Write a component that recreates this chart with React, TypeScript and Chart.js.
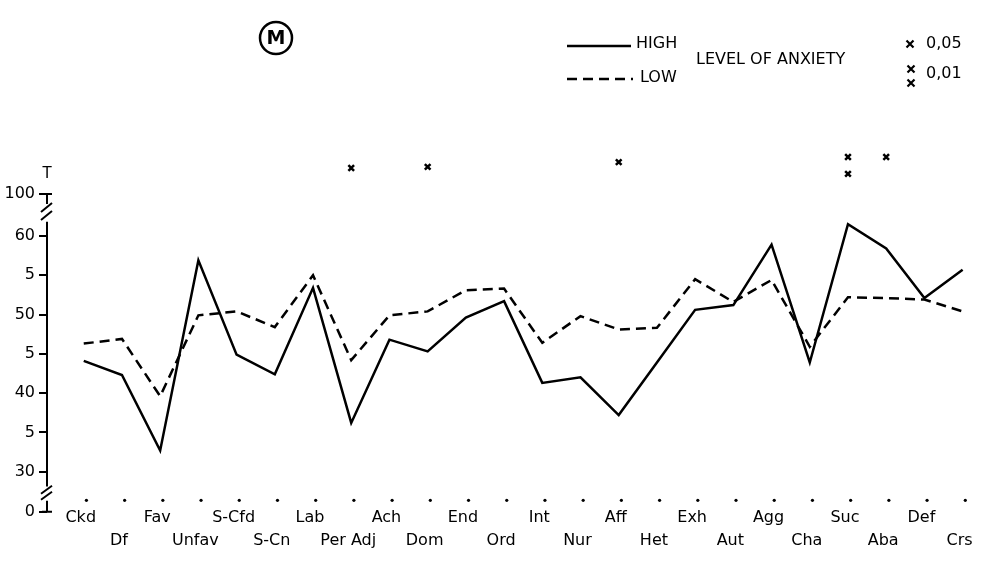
import React, { useEffect, useRef } from 'react';
import { Chart, registerables } from 'chart.js';

Chart.register(...registerables);

// ---------- DATA ----------
const categories = ['Ckd', 'Df', 'Fav', 'Unfav', 'S-Cfd', 'S-Cn', 'Lab', 'Per Adj', 'Ach', 'Dom', 'End', 'Ord', 'Int', 'Nur', 'Aff', 'Het', 'Exh', 'Aut', 'Agg', 'Cha', 'Suc', 'Aba', 'Def', 'Crs'];
const highAnxiety = [44.1, 42.3, 32.7, 56.9, 44.9, 42.4, 53.4, 36.2, 46.8, 45.3, 49.6, 51.7, 41.3, 42.0, 37.2, 43.9, 50.6, 51.2, 58.9, 43.9, 61.5, 58.4, 52.1, 55.7];
const lowAnxiety = [46.3, 46.9, 39.6, 49.9, 50.4, 48.4, 55.0, 44.2, 49.9, 50.4, 53.1, 53.3, 46.4, 49.8, 48.1, 48.3, 54.5, 51.6, 54.4, 45.9, 52.2, 52.1, 51.9, 50.4];
// significance markers (x = 0.05, double x = 0.01), drawn above the 100 line
const sigCategories = ['Per Adj', 'Dom', 'Aff', 'Suc', 'Suc', 'Aba'];
const sigHeights = [68.65, 68.8, 69.4, 70.05, 67.9, 70.05];
const yTickValues = [0, 30, 35, 40, 45, 50, 55, 60, 100];
const yTickLabels = ['0', '30', '5', '40', '5', '50', '5', '60', '100'];
// height (in axis display units) of the row of category dots, just above the 0 mark
const dotRowLevel = 26.35;

// broken axis: 0 and 100 are placed just beyond the 30..60 range
const BREAK_LOW = 24.9;
const BREAK_HIGH = 65.35;
const displayValue = (v: number) => (v === 0 ? BREAK_LOW : v === 100 ? BREAK_HIGH : v);

const FONT = 'DejaVu Sans';

const drawCross = (ctx: CanvasRenderingContext2D, x: number, y: number, r: number) => {
  ctx.beginPath();
  ctx.moveTo(x - r, y - r);
  ctx.lineTo(x + r, y + r);
  ctx.moveTo(x + r, y - r);
  ctx.lineTo(x - r, y + r);
  ctx.stroke();
};

const decorPlugin = {
  id: 'decor',
  afterDraw(chart: any) {
    const ctx: CanvasRenderingContext2D = chart.ctx;
    const ys = chart.scales.y;
    const ax = ys.right;
    const top = ys.getPixelForValue(BREAK_HIGH);
    const bottom = ys.getPixelForValue(BREAK_LOW);
    ctx.save();
    ctx.strokeStyle = '#000';
    ctx.fillStyle = '#000';
    ctx.lineWidth = 2;
    ctx.setLineDash([]);
    // main axis segment
    ctx.beginPath();
    ctx.moveTo(ax, ys.getPixelForValue(61.8));
    ctx.lineTo(ax, ys.getPixelForValue(28.1));
    ctx.stroke();
    // top stub and break
    ctx.beginPath();
    ctx.moveTo(ax - 5, top);
    ctx.lineTo(ax + 5, top);
    ctx.moveTo(ax, top);
    ctx.lineTo(ax, top + 10);
    ctx.moveTo(ax - 6, top + 18);
    ctx.lineTo(ax + 5, top + 9);
    ctx.moveTo(ax - 6, top + 26);
    ctx.lineTo(ax + 5, top + 17);
    ctx.stroke();
    // bottom stub and break
    ctx.beginPath();
    ctx.moveTo(ax - 5, bottom);
    ctx.lineTo(ax + 5, bottom);
    ctx.moveTo(ax, bottom);
    ctx.lineTo(ax, bottom - 11);
    ctx.moveTo(ax - 6, bottom - 12);
    ctx.lineTo(ax + 5, bottom - 20);
    ctx.moveTo(ax - 6, bottom - 18);
    ctx.lineTo(ax + 5, bottom - 26);
    ctx.stroke();
    // axis unit
    ctx.font = `15px "${FONT}"`;
    ctx.textAlign = 'center';
    ctx.textBaseline = 'middle';
    ctx.fillText('T', ax, top - 20);

    // legend
    ctx.lineWidth = 2.5;
    ctx.beginPath();
    ctx.moveTo(567, 46);
    ctx.lineTo(631, 46);
    ctx.stroke();
    ctx.setLineDash([10, 6]);
    ctx.beginPath();
    ctx.moveTo(567, 79);
    ctx.lineTo(633, 79);
    ctx.stroke();
    ctx.setLineDash([]);
    ctx.font = `16px "${FONT}"`;
    ctx.textAlign = 'left';
    ctx.fillText('HIGH', 636, 44);
    ctx.fillText('LOW', 640, 78);
    ctx.fillText('LEVEL OF ANXIETY', 696, 60);
    ctx.fillText('0,05', 926, 44);
    ctx.fillText('0,01', 926, 74);
    ctx.lineWidth = 2.2;
    drawCross(ctx, 910, 44, 3.5);
    drawCross(ctx, 911, 69, 3.5);
    drawCross(ctx, 911, 83, 3.5);

    // circled M
    ctx.lineWidth = 2.5;
    ctx.beginPath();
    ctx.arc(276, 38, 16, 0, Math.PI * 2);
    ctx.stroke();
    ctx.font = `bold 19px "${FONT}"`;
    ctx.textAlign = 'center';
    ctx.fillText('M', 276, 39);
    ctx.restore();
  },
};

export default function App() {
  const ref = useRef<HTMLCanvasElement>(null);

  useEffect(() => {
    if (!ref.current) return;
    const pts = (arr: number[]) => arr.map((v, i) => ({ x: i, y: v }));
    const chart = new Chart(ref.current, {
      type: 'line',
      data: {
        datasets: [
          {
            label: 'HIGH',
            data: pts(highAnxiety),
            borderColor: '#000',
            borderWidth: 2.5,
            pointRadius: 0,
            tension: 0,
            fill: false,
          },
          {
            label: 'LOW',
            data: pts(lowAnxiety),
            borderColor: '#000',
            borderWidth: 2.5,
            borderDash: [10, 6],
            pointRadius: 0,
            tension: 0,
            fill: false,
          },
          {
            label: 'significance',
            data: sigCategories.map((c, k) => ({ x: categories.indexOf(c), y: sigHeights[k] })),
            showLine: false,
            pointStyle: 'crossRot',
            pointRadius: 4,
            pointBorderWidth: 2.5,
            pointBorderColor: '#000',
            clip: false,
          } as any,
          {
            label: 'baseline',
            data: categories.map((_, i) => ({ x: i + 0.07, y: dotRowLevel })),
            showLine: false,
            pointStyle: 'circle',
            pointRadius: 1.6,
            pointBorderWidth: 0,
            pointBackgroundColor: '#000',
            clip: false,
          } as any,
        ],
      },
      options: {
        responsive: false,
        animation: false,
        devicePixelRatio: 1,
        layout: { padding: { top: 141.7, left: 0, right: 0, bottom: 0 } },
        plugins: {
          legend: { display: false },
          tooltip: { enabled: false },
        },
        scales: {
          x: {
            type: 'linear',
            min: -0.9616,
            max: 23.468,
            afterFit: (s: any) => {
              s.height = 70.7;
              s.paddingLeft = 0;
              s.paddingRight = 0;
            },
            afterBuildTicks: (s: any) => {
              s.ticks = categories.map((_, i) => ({ value: i }));
            },
            grid: { display: false },
            border: { display: false },
            ticks: {
              autoSkip: false,
              maxRotation: 0,
              minRotation: 0,
              padding: -3.5,
              labelOffset: -3,
              color: '#000',
              font: { family: FONT, size: 16, lineHeight: 1.43 },
              callback: (_v: any, i: number) => (i % 2 === 0 ? [categories[i], ''] : ['', categories[i]]),
            },
          },
          y: {
            type: 'linear',
            min: 26.1,
            max: 72,
            afterFit: (s: any) => {
              s.width = 47;
              s.paddingTop = 0;
              s.paddingBottom = 0;
            },
            afterBuildTicks: (s: any) => {
              s.ticks = yTickValues.map((v) => ({ value: displayValue(v) }));
            },
            grid: {
              drawOnChartArea: false,
              drawTicks: true,
              tickLength: 8,
              color: '#000',
              lineWidth: 2,
            },
            border: { display: false },
            ticks: {
              padding: 4,
              color: '#000',
              font: { family: FONT, size: 16 },
              callback: (_v: any, i: number) => yTickLabels[i],
            },
          },
        },
      },
      plugins: [decorPlugin],
    });
    return () => chart.destroy();
  }, []);

  return (
    <div style={{ position: 'fixed', left: 0, top: 0, width: 987, height: 573, background: '#fff', overflow: 'hidden' }}>
      <canvas ref={ref} width={987} height={573} style={{ display: 'block' }} />
    </div>
  );
}
